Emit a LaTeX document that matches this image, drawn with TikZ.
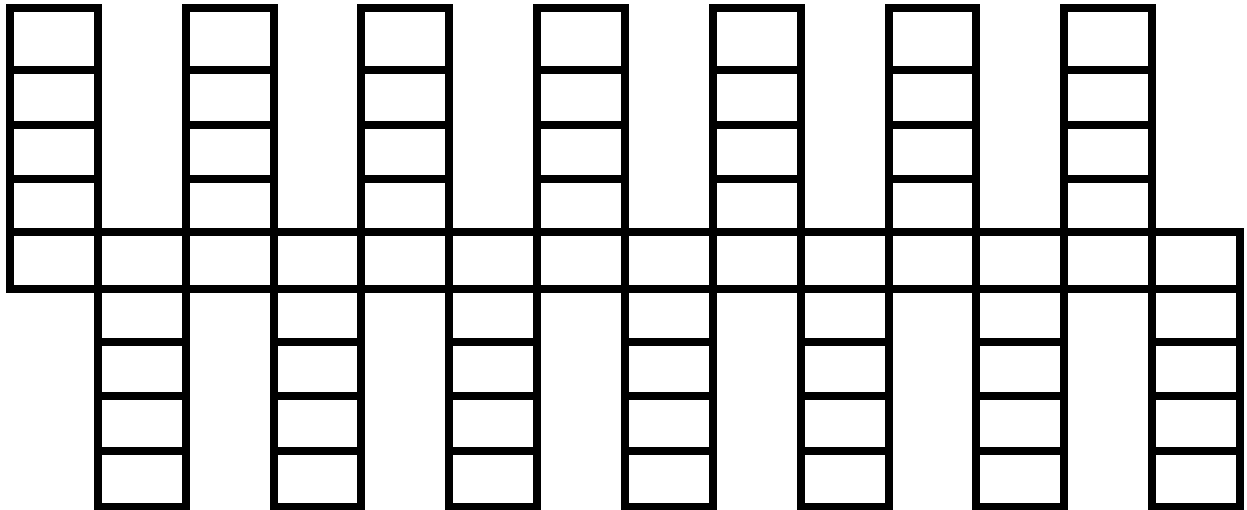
\documentclass[tikz,border=0pt]{standalone}
\begin{document}
\begin{tikzpicture}[x=1pt,y=-1pt,grid/.style={line width=8pt,line join=miter,draw=black}]
\useasboundingbox (0,0) rectangle (1247,510);
\def\cw{87.857}
% middle row
\draw[grid] (10,232) rectangle (1240,289);
\foreach \k in {1,...,13}{
  \draw[grid] ({10+\cw*\k},232) -- ({10+\cw*\k},289);
}
% top columns
\foreach \k in {0,2,...,12}{
  \draw[grid] ({10+\cw*\k},8) rectangle ({10+\cw*(\k+1)},232);
  \foreach \y in {70,125,179}{
    \draw[grid] ({10+\cw*\k},\y) -- ({10+\cw*(\k+1)},\y);
  }
}
% bottom columns
\foreach \k in {1,3,...,13}{
  \draw[grid] ({10+\cw*\k},289) rectangle ({10+\cw*(\k+1)},507);
  \foreach \y in {342,396,451}{
    \draw[grid] ({10+\cw*\k},\y) -- ({10+\cw*(\k+1)},\y);
  }
}
\end{tikzpicture}
\end{document}
